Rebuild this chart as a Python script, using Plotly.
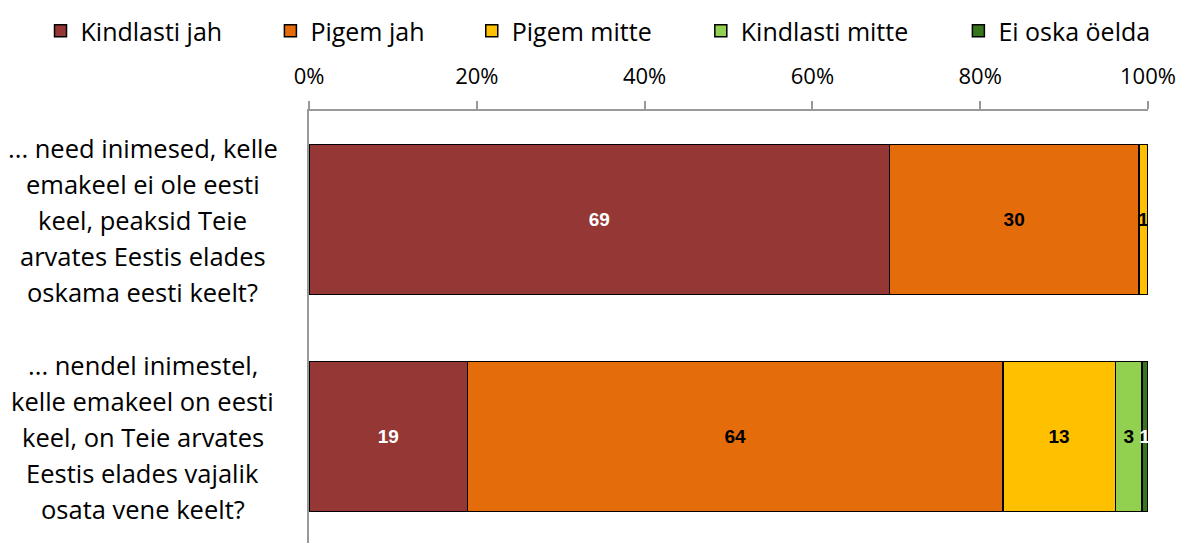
import plotly.graph_objects as go

categories = [
    "... need inimesed, kelle<br>emakeel ei ole eesti<br>keel, peaksid Teie<br>arvates Eestis elades<br>oskama eesti keelt?",
    "... nendel inimestel,<br>kelle emakeel on eesti<br>keel, on Teie arvates<br>Eestis elades vajalik<br>osata vene keelt?",
]
series_names = ["Kindlasti jah", "Pigem jah", "Pigem mitte", "Kindlasti mitte", "Ei oska öelda"]
kindlasti_jah = [69.2, 18.9]
pigem_jah = [29.7, 63.8]
pigem_mitte = [1.1, 13.4]
kindlasti_mitte = [0.0, 3.2]
ei_oska = [0.0, 0.7]
tick_vals = [0, 20, 40, 60, 80, 100]
tick_text = ["0%", "20%", "40%", "60%", "80%", "100%"]

series_values = [kindlasti_jah, pigem_jah, pigem_mitte, kindlasti_mitte, ei_oska]
colors = ["#953735", "#E46C0A", "#FFC000", "#92D050", "#38761D"]
text_colors = ["white", "black", "black", "black", "white"]
legend_x = [-0.320, -0.046, 0.194, 0.467, 0.774]

FONT = "Open Sans"
fig = go.Figure()
cat_ids = ["q1", "q2"]
legend_ids = ["legend", "legend2", "legend3", "legend4", "legend5"]
for name, vals, col, tcol, lid in zip(series_names, series_values, colors, text_colors, legend_ids):
    fig.add_trace(go.Bar(
        name=name, y=cat_ids, x=vals, orientation="h", legend=lid,
        marker=dict(color=col, line=dict(color="black", width=1.5)),
        text=[f"{round(v)}" if v > 0 else "" for v in vals],
        textposition="inside", insidetextanchor="middle",
        textangle=0, constraintext="none",
        textfont=dict(family="Liberation Sans", size=19, color=tcol, weight="bold"),
        hoverinfo="skip",
    ))

for cid, label in zip(cat_ids, categories):
    lines = label.split("<br>")
    n = len(lines)
    for i, ln in enumerate(lines):
        fig.add_annotation(
            x=-0.198, xref="paper", y=cid, yref="y",
            text=ln, showarrow=False, xanchor="center", yanchor="middle",
            yshift=((n - 1) / 2 - i) * 36,
            font=dict(family=FONT, size=25.5, color="black"),
        )

legend_common = dict(orientation="h", xanchor="left", y=1.2373, yanchor="top",
                     font=dict(family=FONT, size=25, color="black"),
                     bgcolor="rgba(0,0,0,0)", itemwidth=30)
layout_legends = {lid: dict(x=lx, **legend_common) for lid, lx in zip(legend_ids, legend_x)}

fig.update_layout(
    barmode="stack", bargap=0.31,
    width=1189, height=543,
    margin=dict(l=301, r=49, t=103, b=6, autoexpand=False),
    plot_bgcolor="white", paper_bgcolor="white",
    font=dict(family=FONT, size=22, color="black"),
    showlegend=True,
    xaxis=dict(side="top", range=[0, 100], tickvals=tick_vals, ticktext=tick_text,
               showgrid=False, zeroline=False, showline=True, linecolor="#999999",
               linewidth=1.5, ticks="outside", ticklen=8, tickcolor="#999999",
               tickwidth=1.5, ticklabelstandoff=8,
               tickfont=dict(family=FONT, size=22, color="black")),
    yaxis=dict(autorange="reversed", showticklabels=False, showgrid=False,
               zeroline=False, showline=True, linecolor="#999999", linewidth=1.5,
               ticks=""),
    **layout_legends,
)

fig.write_html("out.html")
